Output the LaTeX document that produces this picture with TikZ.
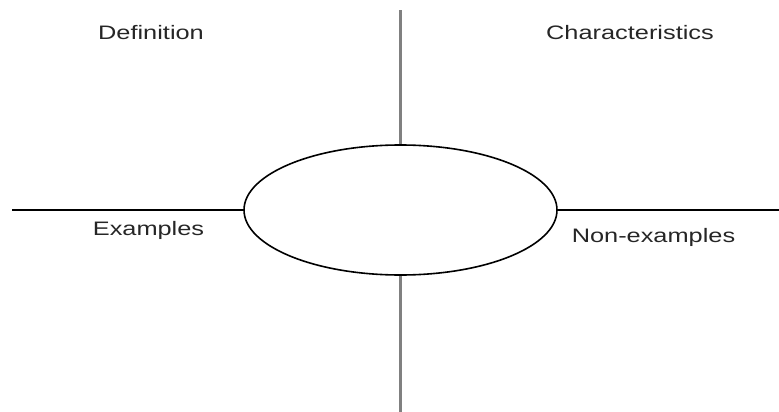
\documentclass[tikz,border=0pt]{standalone}
\usepackage{fontspec}
\setmainfont{Liberation Sans}
\newfontfamily\widesans[FakeStretch=1.3]{Liberation Sans}
\usetikzlibrary{shapes.geometric}

\tikzset{
    label/.style={font=\widesans\fontsize{19.5}{22}\selectfont, text=black!85, anchor=base, inner sep=0pt},
    hline/.style={black, line width=1.6pt},
    vline/.style={gray, line width=3pt}
}

\begin{document}
\begin{tikzpicture}[x=1pt, y=-1pt]
    \useasboundingbox (0,0) rectangle (779,412);

    % Centre oval
    \node[ellipse, draw, line width=1.6pt, minimum width=313pt, minimum height=130pt, inner sep=0pt] (core) at (400.5,210) {};

    % Line ends
    \coordinate (top) at (400.5,10);
    \coordinate (bottom) at (400.5,412);
    \coordinate (left) at (12,210);
    \coordinate (right) at (779,210);

    % Quadrant lines
    \draw[vline] (core.north) -- (top);
    \draw[vline] (core.south) -- (bottom);
    \draw[hline] (core.west) -- (left);
    \draw[hline] (core.east) -- (right);

    % Quadrant labels
    \node[label] (definition) at (151,40) {Definition};
    \node[label] (characteristics) at (630,39.5) {Characteristics};
    \node[label] (examples) at (148.5,235) {Examples};
    \node[label] (nonexamples) at (653.5,242) {Non-examples};
\end{tikzpicture}
\end{document}
